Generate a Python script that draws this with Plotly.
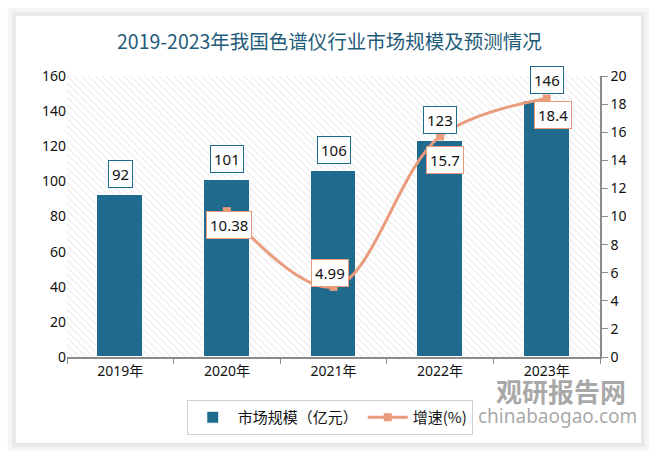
import plotly.graph_objects as go

years = ["2019年", "2020年", "2021年", "2022年", "2023年"]
market = [92, 101, 106, 123, 146]
growth_years = ["2020年", "2021年", "2022年", "2023年"]
growth = [10.38, 4.99, 15.7, 18.4]
growth_labels = ["10.38", "4.99", "15.7", "18.4"]
left_ticks = [0, 20, 40, 60, 80, 100, 120, 140, 160]
right_ticks = [0, 2, 4, 6, 8, 10, 12, 14, 16, 18, 20]

BAR = "#1F6B8E"
LINE = "#E99B7C"
FONT = "Noto Sans, Noto Sans CJK SC"

fig = go.Figure()

fig.add_trace(go.Bar(
    x=years, y=market, name="市场规模（亿元）", width=0.43,
    marker=dict(color=BAR, line=dict(color="white", width=1)), yaxis="y"))

# hatched plot background (drawn first via trace order below)
fig.add_trace(go.Bar(
    x=[years[2]], y=[160], width=[5], base=0,
    marker=dict(color="white", line=dict(width=0),
                pattern=dict(shape="\\", fgcolor="#d0d0d0", bgcolor="white", size=5, solidity=0.2)),
    showlegend=False, hoverinfo="skip", yaxis="y"))
fig.data = (fig.data[1], fig.data[0])

fig.add_trace(go.Scatter(
    x=growth_years, y=growth, name="增速(%)", mode="lines+markers", yaxis="y2",
    line=dict(color=LINE, width=3, shape="spline", smoothing=1.0),
    marker=dict(symbol="square", size=8, color=LINE)))

annotations = []
for yr, v in zip(years, market):
    annotations.append(dict(x=yr, y=v, xref="x", yref="y", text=str(v), showarrow=False,
                            yanchor="bottom", yshift=7, bordercolor=BAR, borderwidth=1,
                            bgcolor="white", borderpad=3,
                            font=dict(family=FONT, size=15, color="#111")))
offsets = [(2, 0, "top"), (-4, 0, "bottom"), (5, -10, "top"), (6, -3, "top")]
for yr, v, lab, (dx, dy, ya) in zip(growth_years, growth, growth_labels, offsets):
    annotations.append(dict(x=yr, y=v, xref="x", yref="y2", text=lab, showarrow=False,
                            yanchor=ya, xshift=dx, yshift=dy, bordercolor=LINE, borderwidth=1,
                            bgcolor="white", borderpad=3,
                            font=dict(family=FONT, size=15, color="#111")))
annotations.append(dict(x=0.493, y=1.128, xref="paper", yref="paper", showarrow=False,
                        xanchor="center", yanchor="middle",
                        text="2019-2023年我国色谱仪行业市场规模及预测情况",
                        font=dict(family="Noto Sans CJK SC", size=19.5, color="#1F5C7A")))
annotations.append(dict(x=0.927, y=-0.12, xref="paper", yref="paper", showarrow=False,
                        xanchor="center", yanchor="middle",
                        text="<b>观研报告网</b>",
                        font=dict(family="Noto Sans CJK SC", size=26, color="rgba(140,140,140,0.75)")))
annotations.append(dict(x=0.92, y=-0.21, xref="paper", yref="paper", showarrow=False,
                        xanchor="center", yanchor="middle",
                        text="chinabaogao.com",
                        font=dict(family="Noto Sans", size=19, color="rgba(140,140,140,0.75)")))

shapes = [
    dict(type="rect", xref="paper", yref="paper", x0=-0.111, x1=1.092, y0=-0.334, y1=1.242,
         fillcolor="#f4f4f4", line=dict(width=0), layer="below"),
    dict(type="rect", xref="paper", yref="paper", x0=-0.103, x1=1.084, y0=-0.320, y1=1.228,
         fillcolor="#e9e9e9", line=dict(width=0), layer="below"),
    dict(type="rect", xref="paper", yref="paper", x0=-0.0957, x1=1.077, y0=-0.306, y1=1.2135,
         fillcolor="white", line=dict(width=0), layer="below"),
]

fig.update_layout(
    width=659, height=458,
    margin=dict(l=67, r=59, t=76, b=101),
    paper_bgcolor="white", plot_bgcolor="white",
    barmode="overlay", bargap=0,
    font=dict(family=FONT, size=14, color="#111"),
    xaxis=dict(range=[-0.5, 4.5], categoryorder="array", categoryarray=years,
               showgrid=False, showline=True, linecolor="#8c8c8c", linewidth=1.5,
               ticks="outside", tickson="boundaries", ticklen=5, tickcolor="#8c8c8c",
               tickfont=dict(family=FONT, size=14, color="#111")),
    yaxis=dict(range=[0, 160], tickvals=left_ticks, showgrid=False, zeroline=False,
               showline=False, tickfont=dict(family=FONT, size=14, color="#111"), ticklen=0),
    yaxis2=dict(range=[0, 20], tickvals=right_ticks, overlaying="y", side="right", showgrid=False,
                zeroline=False, showline=True, linecolor="#8c8c8c", linewidth=1.5, ticks="outside",
                ticklen=6, tickcolor="#8c8c8c", tickfont=dict(family=FONT, size=14, color="#111")),
    legend=dict(orientation="h", x=0.493, xanchor="center", y=-0.153, yanchor="top",
                bordercolor="#d0d0d0", borderwidth=1, font=dict(family="Noto Sans CJK SC", size=15),
                itemwidth=40),
    annotations=annotations, shapes=shapes,
    hovermode=False,
)
fig.write_html("out.html", config={"displayModeBar": False},
               post_script="document.body.style.margin='0px';")
